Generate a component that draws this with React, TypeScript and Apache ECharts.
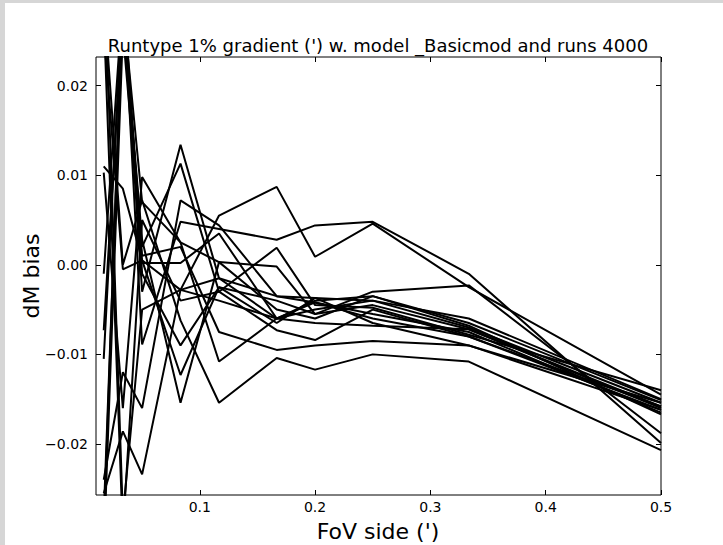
import React, { useEffect, useRef } from "react";
import * as echarts from "echarts";

const xs = [0.0167, 0.0333, 0.05, 0.0833, 0.1167, 0.1667, 0.2, 0.25, 0.3333, 0.5];

const runs: number[][] = [
  [0.011, 0.0085, 0.0005, -0.0123, -0.0025, -0.004, -0.0055, -0.0045, -0.0072, -0.0158],
  [0.0103, -0.016, 0.0098, 0.0025, -0.0108, -0.006, -0.004, -0.0035, -0.0065, -0.0151],
  [-0.0073, 0.028, 0.002, 0.0113, -0.003, -0.0073, -0.0084, -0.005, -0.008, -0.0162],
  [-0.0105, 0.03, -0.003, 0.0134, -0.0015, -0.006, -0.0042, -0.0055, -0.0075, -0.0165],
  [-0.024, -0.012, -0.016, 0.0072, 0.0044, -0.0035, -0.0037, -0.004, -0.007, -0.0154],
  [-0.0255, -0.0186, -0.0234, -0.0028, 0.0055, 0.0087, 0.0009, 0.0046, -0.0025, -0.0145],
  [0.03, 0.0, 0.0072, -0.0062, -0.0154, -0.0104, -0.0117, -0.01, -0.0108, -0.0207],
  [0.032, 0.028, 0.0028, -0.0154, 0.0003, -0.0002, -0.0055, -0.003, -0.0023, -0.0188],
  [-0.03, 0.031, -0.0089, 0.0048, 0.004, 0.0028, 0.0044, 0.0048, -0.001, -0.0199],
  [-0.032, 0.026, 0.001, 0.002, -0.0075, -0.0095, -0.009, -0.0085, -0.009, -0.0162],
  [0.028, -0.03, 0.005, -0.004, -0.003, 0.0019, -0.0045, -0.0048, -0.0078, -0.014],
  [-0.028, 0.029, 0.007, 0.0025, 0.0003, -0.005, -0.006, -0.0035, -0.0068, -0.0167],
  [0.035, -0.028, -0.005, -0.0028, -0.0015, -0.0035, -0.0042, -0.006, -0.008, -0.0158],
  [-0.001, 0.03, 0.0002, 0.0002, 0.0035, -0.006, -0.005, -0.004, -0.006, -0.015],
  [0.025, 0.032, -0.001, -0.009, -0.0025, -0.0065, -0.0037, -0.0065, -0.009, -0.0154],
  [0.026, -0.0005, 0.0005, -0.0028, -0.004, -0.006, -0.0065, -0.0068, -0.0072, -0.016],
];

const xTicks = [0.1, 0.2, 0.3, 0.4, 0.5];
const yTicks = [-0.02, -0.01, 0.0, 0.01, 0.02];

const FONT = "DejaVu Sans";

export default function App() {
  const ref = useRef<HTMLDivElement>(null);
  useEffect(() => {
    document.body.style.margin = "0";
    const chart = echarts.init(ref.current!, undefined, { renderer: "svg" });
    const tickStyle = { color: "#000", width: 1 };
    const xBase = {
      type: "value" as const,
      min: 0.01,
      max: 0.5,
      axisLine: { show: false, onZero: false },
      splitLine: { show: false },
    };
    const yBase = {
      type: "value" as const,
      min: -0.0257,
      max: 0.0232,
      axisLine: { show: false, onZero: false },
      splitLine: { show: false },
    };
    chart.setOption({
      animation: false,
      backgroundColor: "#fff",
      textStyle: { fontFamily: FONT },
      grid: {
        left: 96,
        right: 62,
        top: 57,
        bottom: 50,
        show: true,
        borderColor: "#000",
        borderWidth: 1,
        backgroundColor: "#fff",
        containLabel: false,
      },
      graphic: [
        { type: "rect", shape: { x: 0, y: 0, width: 723, height: 3 }, style: { fill: "#d6d6d6" } },
        { type: "rect", shape: { x: 0, y: 0, width: 5, height: 545 }, style: { fill: "#d6d6d6" } },
        {
          type: "text",
          x: 378,
          y: 45,
          style: {
            text: "Runtype 1% gradient (') w. model _Basicmod and runs 4000",
            font: `18px "${FONT}"`,
            fill: "#000",
            align: "center",
            verticalAlign: "middle",
          },
        },
        {
          type: "text",
          x: 378,
          y: 531,
          style: {
            text: "FoV side (')",
            font: `22px "${FONT}"`,
            fill: "#000",
            align: "center",
            verticalAlign: "middle",
          },
        },
        {
          type: "text",
          x: 31,
          y: 276,
          rotation: Math.PI / 2,
          style: {
            text: "dM bias",
            font: `22px "${FONT}"`,
            fill: "#000",
            align: "center",
            verticalAlign: "middle",
          },
        },
      ],
      xAxis: [
        {
          ...xBase,
          position: "bottom",
          axisTick: { show: true, inside: true, length: 5, customValues: xTicks, lineStyle: tickStyle },
          axisLabel: {
            show: true,
            customValues: xTicks,
            formatter: (v: number) => v.toFixed(1),
            color: "#000",
            fontSize: 14,
            fontFamily: FONT,
            margin: 5,
          },
        },
        {
          ...xBase,
          position: "top",
          axisTick: { show: true, inside: true, length: 5, customValues: xTicks, lineStyle: tickStyle },
          axisLabel: { show: false },
        },
      ],
      yAxis: [
        {
          ...yBase,
          position: "left",
          axisTick: { show: true, inside: true, length: 5, customValues: yTicks, lineStyle: tickStyle },
          axisLabel: {
            show: true,
            customValues: yTicks,
            formatter: (v: number) => (v < -1e-9 ? "\u2212" : "") + Math.abs(v).toFixed(2),
            color: "#000",
            fontSize: 14,
            fontFamily: FONT,
            margin: 8,
          },
        },
        {
          ...yBase,
          position: "right",
          axisTick: { show: true, inside: true, length: 5, customValues: yTicks, lineStyle: tickStyle },
          axisLabel: { show: false },
        },
      ],
      series: runs.map((r, k) => ({
        type: "line",
        name: "run" + k,
        xAxisIndex: 0,
        yAxisIndex: 0,
        data: xs.map((x, i) => [x, r[i]]),
        showSymbol: false,
        symbol: "none",
        clip: true,
        lineStyle: { color: "#000", width: 2 },
        z: 3,
      })),
    });
    return () => chart.dispose();
  }, []);
  return <div ref={ref} style={{ width: 723, height: 545 }} />;
}
